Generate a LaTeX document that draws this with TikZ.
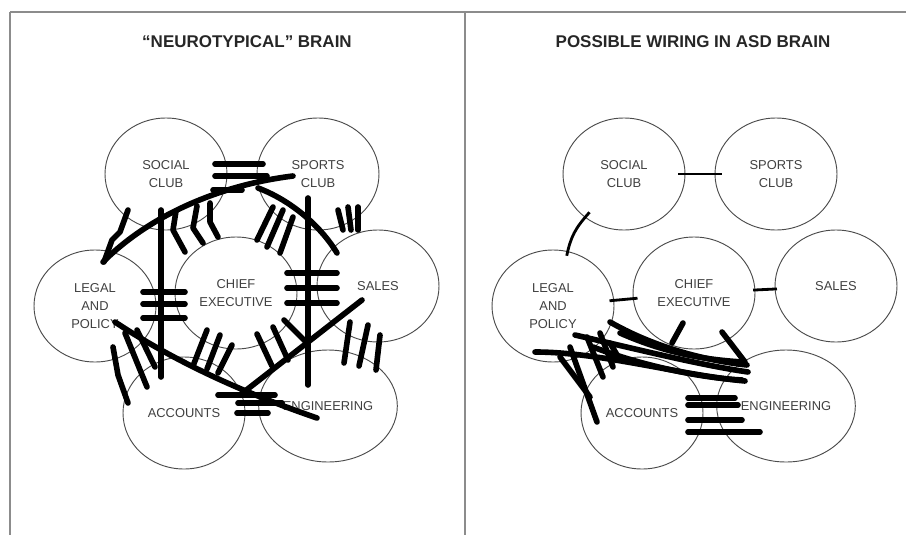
\documentclass[tikz,border=0pt]{standalone}
\usepackage{fontspec}
\setmainfont{Liberation Sans}
\usetikzlibrary{shapes.geometric}

\begin{document}
\begin{tikzpicture}[
  x=0.03cm, y=-0.03cm,
  unit/.style = {ellipse, draw=black!70, line width=0.8pt, minimum width=3.66cm, minimum height=3.36cm, align=center, text=black!75, font=\fontsize{11}{15}\selectfont},
  heading/.style = {text=black!85, font=\bfseries\fontsize{14.5}{16}\selectfont},
  frame/.style = {draw=black!45, line width=1.6pt},
  wire/.style = {line width=4.8pt, line cap=round, line join=round},
  link/.style = {line width=2.4pt}
  ]
  \useasboundingbox (0,0) rectangle (906,535);

  % Cadre
  \draw[frame] (10,12) -- (906,12);
  \draw[frame] (10,12) -- (10,535);
  \draw[frame] (465,12) -- (465,535);

  % Titres
  \node[heading] (ltitle) at (247,42) {“NEUROTYPICAL” BRAIN};
  \node[heading] (rtitle) at (693,42) {POSSIBLE WIRING IN ASD BRAIN};

  % Noeuds (gauche)
  \node[unit] (lsocial) at (166,174) {SOCIAL\\CLUB};
  \node[unit] (lsports) at (318,174) {SPORTS\\CLUB};
  \node[unit] (llegal) at (95,306) {LEGAL\\AND\\POLICY};
  \node[unit] (lchief) at (236,293) {CHIEF\\EXECUTIVE};
  \node[unit] (lsales) at (378,286) {SALES};
  \node[unit] (laccounts) at (184,413) {ACCOUNTS};
  \node[unit] (lengineering) at (328,406) {ENGINEERING};

  % Noeuds (droite)
  \node[unit] (rsocial) at (624,174) {SOCIAL\\CLUB};
  \node[unit] (rsports) at (776,174) {SPORTS\\CLUB};
  \node[unit] (rlegal) at (553,306) {LEGAL\\AND\\POLICY};
  \node[unit] (rchief) at (694,293) {CHIEF\\EXECUTIVE};
  \node[unit] (rsales) at (836,286) {SALES};
  \node[unit] (raccounts) at (642,413) {ACCOUNTS};
  \node[unit] (rengineering) at (786,406) {ENGINEERING};

  % Fils (gauche)
  \draw[wire] (215,164) -- (263,164);
  \draw[wire] (215,176) -- (267,176);
  \draw[wire] (213,190) -- (242,190);
  \draw[wire] (103,262) .. controls (150,215) and (220,185) .. (293,176);
  \draw[wire] (258,188) .. controls (290,200) and (320,225) .. (337,253);
  \draw[wire] (161,210) -- (161,377);
  \draw[wire] (143,292) -- (185,292);
  \draw[wire] (143,304) -- (185,304);
  \draw[wire] (143,318) -- (185,318);
  \draw[wire] (308,198) -- (308,385);
  \draw[wire] (287,273) -- (337,273);
  \draw[wire] (287,288) -- (337,288);
  \draw[wire] (287,303) -- (337,303);
  \draw[wire] (115,322) .. controls (180,365) and (250,395) .. (317,418);
  \draw[wire] (362,300) -- (240,395);
  \draw[wire] (218,395) -- (275,395);
  \draw[wire] (238,403) -- (282,403);
  \draw[wire] (237,413) -- (268,413);
  \draw[wire] (128,210) -- (120,232) -- (112,240) -- (104,262);
  \draw[wire] (176,211) -- (173,230) -- (185,252);
  \draw[wire] (197,206) -- (193,228) -- (203,243);
  \draw[wire] (210,203) -- (210,222) -- (218,237);
  \draw[wire] (273,207) -- (257,240);
  \draw[wire] (283,210) -- (267,247);
  \draw[wire] (293,217) -- (280,253);
  \draw[wire] (338,210) -- (343,230);
  \draw[wire] (348,207) -- (351,230);
  \draw[wire] (358,207) -- (358,230);
  \draw[wire] (113,347) -- (118,375) -- (128,403);
  \draw[wire] (125,333) -- (147,387);
  \draw[wire] (137,330) -- (155,367);
  \draw[wire] (207,330) -- (193,366);
  \draw[wire] (220,335) -- (207,369);
  \draw[wire] (232,345) -- (218,373);
  \draw[wire] (257,334) -- (272,366);
  \draw[wire] (273,327) -- (288,360);
  \draw[wire] (284,320) -- (306,342);
  \draw[wire] (350,322) -- (344,363);
  \draw[wire] (368,325) -- (359,366);
  \draw[wire] (380,335) -- (376,370);

  % Fils (droite)
  \draw[link, shorten <=-6pt, shorten >=-6pt] (rsocial) -- (rsports);
  \draw[link, shorten <=-4pt, shorten >=-4pt] (rlegal) -- (rchief);
  \draw[link, shorten <=-2pt, shorten >=-2pt] (rchief) -- (rsales);
  \draw[link, shorten <=-6pt, shorten >=-4pt] (rsocial.228) to[bend right=15] (rlegal.75);
  \draw[wire] (535,352) .. controls (600,352) and (680,375) .. (745,381);
  \draw[wire] (610,322) .. controls (650,345) and (700,360) .. (747,365);
  \draw[wire] (620,333) .. controls (670,355) and (710,360) .. (743,362);
  \draw[wire] (593,347) .. controls (640,365) and (700,378) .. (742,380);
  \draw[wire] (575,335) .. controls (640,350) and (700,365) .. (748,372);
  \draw[wire] (683,323) -- (672,343);
  \draw[wire] (722,332) -- (745,362);
  \draw[wire] (570,347) -- (597,422);
  \draw[wire] (560,357) -- (590,397);
  \draw[wire] (587,337) -- (603,377);
  \draw[wire] (600,333) -- (613,367);
  \draw[wire] (610,343) -- (620,360);
  \draw[wire] (688,398) -- (735,398);
  \draw[wire] (688,405) -- (738,405);
  \draw[wire] (688,420) -- (742,420);
  \draw[wire] (688,432) -- (760,432);

\end{tikzpicture}
\end{document}
